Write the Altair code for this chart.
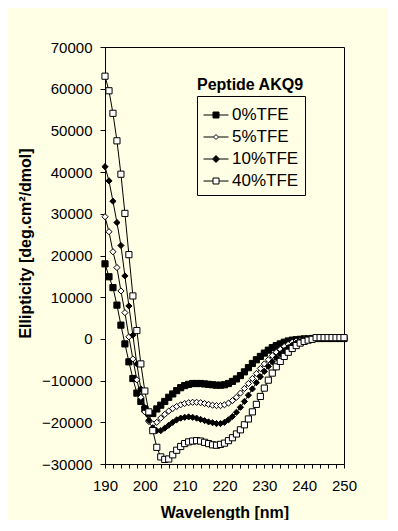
import altair as alt
import pandas as pd

# ---------------- data ----------------
wavelength = list(range(190, 251))

tfe0 = [18000, 14900, 12300, 8100, 3300, -1200, -5500, -9500, -13000, -15000,
        -16800, -17800, -17900, -16800, -15900, -15000, -14000, -13200, -12400, -11700,
        -11200, -10900, -10700, -10700, -10700, -10800, -10900, -11000, -11100, -11100,
        -11000, -10700, -10200, -9600, -8800, -7900, -6900, -5900, -5000, -4200,
        -3400, -2700, -2100, -1600, -1200, -800, -500, -300, -200, -100,
        0, 0, 100, 100, 100, 100, 100, 100, 100, 100, 100]

tfe5 = [29300, 25700, 20900, 17100, 11500, 6300, 500, -4800, -9800, -14000,
        -17500, -19800, -20400, -20000, -19000, -18100, -17300, -16700, -16200, -15800,
        -15500, -15300, -15200, -15200, -15300, -15500, -15700, -15900, -16000, -16000,
        -15800, -15400, -14800, -14000, -13000, -11900, -10700, -9500, -8300, -7100,
        -6000, -5000, -4000, -3200, -2500, -1800, -1300, -800, -500, -300,
        -100, 0, 100, 100, 100, 100, 100, 100, 100, 100, 100]

tfe10 = [41300, 37900, 33000, 27900, 22400, 15100, 7900, 900, -6000, -12000,
         -16500, -19500, -21300, -22000, -22000, -21400, -20700, -20000, -19400, -19000,
         -18800, -18700, -18800, -19000, -19300, -19600, -19900, -20100, -20300, -20300,
         -20000, -19400, -18600, -17600, -16400, -15000, -13500, -12000, -10500, -9100,
         -7800, -6600, -5500, -4500, -3600, -2800, -2100, -1500, -1000, -600,
         -300, -100, 0, 100, 100, 100, 100, 100, 100, 100, 100]

tfe40 = [63000, 59500, 54100, 47500, 39500, 30100, 20200, 10300, 2000, -6000,
         -12500, -17500, -22000, -26000, -28300, -28900, -28800, -27800, -26700, -25800,
         -25100, -24700, -24500, -24400, -24500, -24800, -25100, -25400, -25500, -25300,
         -25000, -24400, -23700, -22800, -21800, -20600, -19200, -17500, -15700, -13800,
         -11800, -9900, -8200, -6700, -5400, -4200, -3200, -2300, -1600, -1000,
         -600, -300, -100, 300, 300, 300, 300, 300, 300, 300, 300]

series_names = ["0%TFE", "5%TFE", "10%TFE", "40%TFE"]
marker_shapes = ["square", "diamond", "diamond", "square"]
marker_fills = ["black", "white", "black", "white"]
legend_symbols = [
    "M-1,0H-0.24M0.24,0H1M-0.24,-0.24H0.24V0.24H-0.24Z",
    "M-1,0H-0.2M0.2,0H1M0,-0.2L0.2,0L0,0.2L-0.2,0Z",
    "M-1,0H-0.28M0.28,0H1M0,-0.28L0.28,0L0,0.28L-0.28,0Z",
    "M-1,0H-0.24M0.24,0H1M-0.24,-0.24H0.24V0.24H-0.24Z",
]
legend_title = "Peptide AKQ9"
x_ticks = list(range(190, 251, 2))
y_ticks = list(range(-30000, 70001, 10000))

rows = []
for name, vals in zip(series_names, [tfe0, tfe5, tfe10, tfe40]):
    for w, v in zip(wavelength, vals):
        rows.append({"wl": w, "ell": v, "series": name})
df = pd.DataFrame(rows)

FONT = "Liberation Sans"
BG = "#FFFFE5"

x = alt.X("wl:Q",
          scale=alt.Scale(domain=[190, 250], nice=False, zero=False),
          axis=alt.Axis(values=x_ticks,
                        labelExpr="datum.value % 10 == 0 ? datum.label : ''",
                        labelFlush=False,
                        title="Wavelength [nm]", tickSize=4, labelPadding=10,
                        titleY=48, titleBaseline="middle"))
y = alt.Y("ell:Q",
          scale=alt.Scale(domain=[-30000, 70000], nice=False, zero=False),
          axis=alt.Axis(values=y_ticks, format="d", labelFlush=False,
                        title="Ellipticity [deg.cm²/dmol]", tickSize=5, labelPadding=8,
                        titleX=-80, titleY=196, titleBaseline="middle"))

lines = alt.Chart(df).mark_line(color="black", strokeWidth=1).encode(
    x=x, y=y, detail="series:N")

points = alt.Chart(df).mark_point(filled=True, size=38, stroke="black",
                                  strokeWidth=1, opacity=1).encode(
    x=x, y=y,
    shape=alt.Shape("series:N", scale=alt.Scale(domain=series_names, range=marker_shapes),
                    legend=None),
    fill=alt.Fill("series:N", scale=alt.Scale(domain=series_names, range=marker_fills),
                  legend=None),
)

leg_props = dict(orient="none", legendX=92, legendY=49, title=None,
                 fillColor=BG, strokeColor="black", padding=6,
                 labelFont=FONT, labelFontSize=17, labelColor="black",
                 symbolSize=625, symbolStrokeWidth=1, symbolStrokeColor="black",
                 rowPadding=1, labelOffset=3)

leg = alt.Chart(df).transform_filter("false").mark_point(
    filled=True, size=625, stroke="black", strokeWidth=1, opacity=1).encode(
    shape=alt.Shape("series:N", scale=alt.Scale(domain=series_names, range=legend_symbols),
                    legend=alt.Legend(**leg_props)),
    fill=alt.Fill("series:N", scale=alt.Scale(domain=series_names, range=marker_fills),
                  legend=alt.Legend(**leg_props)),
    stroke=alt.Stroke("series:N", scale=alt.Scale(domain=series_names,
                                                  range=["black"] * 4),
                      legend=alt.Legend(**leg_props)),
)

title_df = pd.DataFrame({"t": [legend_title]})
title_text = alt.Chart(title_df).mark_text(
    font=FONT, fontSize=16, fontWeight="bold", color="black",
    align="center", baseline="middle").encode(
    text="t:N", x=alt.value(145), y=alt.value(38))

chart = alt.layer(lines, points, leg, title_text).resolve_scale(
    shape="independent", fill="independent", stroke="independent"
).properties(
    width=239, height=417, background=BG,
    padding={"left": 97, "top": 39, "right": 44, "bottom": 56},
    autosize=alt.AutoSizeParams(type="none"),
).configure_view(
    fill="white", stroke="black", strokeWidth=1
).configure_axis(
    labelFont=FONT, labelFontSize=15, labelColor="black",
    titleFont=FONT, titleFontSize=16, titleFontWeight="bold", titleColor="black",
    domainColor="black", tickColor="black", grid=False,
)

chart.save("out.html", embed_options={"renderer": "svg", "actions": False})
